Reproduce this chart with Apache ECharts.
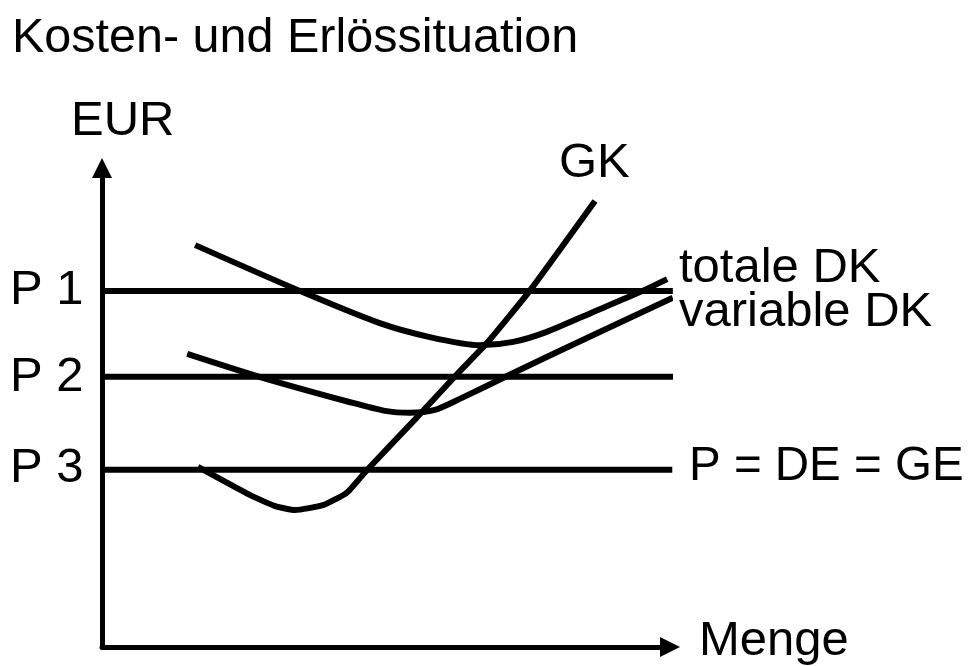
<!DOCTYPE html>
<html><head><meta charset="utf-8">
<script src="https://cdn.jsdelivr.net/npm/echarts@6/dist/echarts.min.js"></script>
<style>html,body{margin:0;padding:0;background:#fff}#c{width:968px;height:666px}</style>
</head><body><div id="c"></div>
<script>
// ---- data ----
const titleText = 'Kosten- und Erlössituation';
const yAxisName = 'EUR';
const xAxisName = 'Menge';
const priceNames = ['P 1', 'P 2', 'P 3'];
const priceLevels = [74.3, 56.4, 37.0];
const priceLineEnds = [100.5, 103.5, 100.4];
const totaleDK = [[16.4,83.9],[34.9,74.3],[48.9,67.6],[57.7,64.7],[66.5,63.0],[72.4,63.7],[78.3,65.8],[86.4,69.9],[94.7,74.1],[99.5,76.8]];
const variableDK = [[15.0,61.2],[28.3,56.2],[43.7,51.1],[49.8,49.3],[54.2,48.9],[58.6,49.5],[63.0,51.8],[72.4,57.2],[86.4,65.1],[100.5,72.9]];
const GK = [[16.9,37.6],[26.1,31.7],[30.5,29.4],[34.0,28.6],[38.9,29.6],[43.1,32.2],[46.7,37.0],[55.5,48.0],[62.7,57.2],[67.8,63.5],[75.4,74.5],[86.8,93.1]];
const curveNames = ['totale DK', 'variable DK', 'GK'];
const priceLabel = 'P = DE = GE';

// ---- chart ----
const FONT = '"Liberation Sans", Arial, sans-serif';
const chart = echarts.init(document.getElementById('c'), null, {renderer: 'canvas'});
function txt(text, x, y, size) {
  return {type: 'text', x: x, y: y, silent: true,
    style: {text: text, fill: '#000', font: size + 'px ' + FONT,
      textAlign: 'left', textVerticalAlign: 'middle', align: 'left', verticalAlign: 'middle'}};
}
const lineStyle = {color: '#000', width: 6, cap: 'butt'};
const smoothness = [0.25, 0.25, 0.15];
const series = [];
priceLevels.forEach((p, i) => {
  series.push({type: 'line', name: priceNames[i], data: [[0, p], [priceLineEnds[i], p]],
    showSymbol: false, clip: false, silent: true, lineStyle: lineStyle});
});
[totaleDK, variableDK, GK].forEach((d, i) => {
  series.push({type: 'line', name: curveNames[i], data: d, smooth: smoothness[i],
    showSymbol: false, clip: false, silent: true, lineStyle: lineStyle});
});
const axisCommon = {
  type: 'value', min: 0, max: 100,
  splitLine: {show: false}, axisTick: {show: false}, axisLabel: {show: false},
  axisLine: {show: true, symbol: ['none', 'triangle'], symbolSize: [20, 20],
    lineStyle: {color: '#000', width: 5}}
};
chart.setOption({
  animation: false,
  backgroundColor: '#fff',
  grid: {left: 102, right: 298, top: 168, bottom: 19},
  xAxis: Object.assign({}, axisCommon),
  yAxis: Object.assign({}, axisCommon),
  series: series,
  graphic: [
    txt(titleText, 12, 39, 48.5),
    txt(yAxisName, 71, 121, 49),
    txt(curveNames[2], 559, 163, 49),
    txt(curveNames[0], 679, 268, 49),
    txt(curveNames[1], 679, 312, 49),
    txt(priceNames[0], 10, 290, 49),
    txt(priceNames[1], 10, 377, 49),
    txt(priceNames[2], 10, 468, 49),
    txt(priceLabel, 689, 467, 47.5),
    txt(xAxisName, 699, 641, 49)
  ]
});
</script></body></html>
